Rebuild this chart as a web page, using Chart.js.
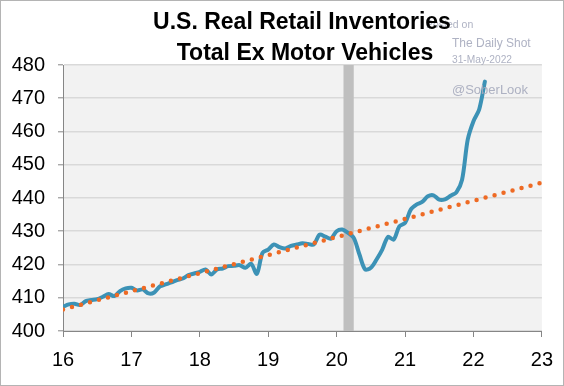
<!DOCTYPE html>
<html><head><meta charset="utf-8">
<script src="https://cdn.jsdelivr.net/npm/chart.js@4.4.1/dist/chart.umd.min.js"></script>
<style>html,body{margin:0;padding:0;background:#fff}#wrap{width:564px;height:386px;position:relative}</style>
</head><body><div id="wrap"><canvas id="c" width="564" height="386"></canvas></div>
<script>
// ---- data ----
const startYear = 16;          // first observation: Jan 2016
const monthsPerYear = 12;
const inventories = [
  407.3, 408.0, 408.2, 407.8, 409.0, 409.3, 409.6, 410.3, 411.1, 410.5, 412.0, 412.8,
  413.0, 412.2, 412.5, 411.3, 411.6, 413.4, 414.0, 414.6, 415.3, 415.8, 416.8, 417.3,
  417.8, 418.5, 417.0, 418.5, 418.8, 419.5, 419.6, 419.8, 419.0, 420.2, 417.2, 423.5,
  424.5, 426.0, 425.2, 424.8, 425.6, 426.0, 426.4, 426.2, 426.0, 429.0, 428.4, 427.8,
  430.0, 430.5, 429.5, 428.0, 423.0, 418.5, 419.0, 421.5, 424.5, 428.3, 427.5, 431.5,
  432.5, 436.5, 438.0, 438.8, 440.5, 440.8, 439.5, 439.6, 440.7, 441.7, 445.5, 457.6,
  463.1, 466.6, 475.0
];
const trendX = [16, 23];
const trendY = [406.5, 444.6];
const recession = [20.1, 20.25];
const xTicks = [16, 17, 18, 19, 20, 21, 22, 23];
const yMin = 400, yMax = 480, yStep = 10;
const titleLines = ['U.S. Real Retail Inventories', 'Total Ex Motor Vehicles'];
const watermark = ['Posted on', 'The Daily Shot', '31-May-2022', '@SoberLook'];

const invPoints = inventories.map((v, i) => ({x: startYear + i / monthsPerYear, y: v}));
const trendPoints = trendX.map((x, i) => ({x: x, y: trendY[i]}));

const FONT = '"Liberation Sans",Arial,sans-serif';
const BFONT = '"Liberation Sans",Arial,sans-serif';

const deco = {
  id: 'deco',
  beforeDraw(chart) {
    const {ctx, chartArea: a} = chart;
    ctx.save();
    ctx.fillStyle = '#ffffff';
    ctx.fillRect(0, 0, chart.width, chart.height);
    ctx.fillStyle = '#F2F2F2';
    ctx.fillRect(a.left, a.top, a.right - a.left, a.bottom - a.top);
    ctx.restore();
  },
  beforeDatasetsDraw(chart) {
    const {ctx, chartArea: a} = chart;
    const xs = chart.scales.x;
    const x0 = xs.getPixelForValue(recession[0]);
    const x1 = xs.getPixelForValue(recession[1]);
    ctx.save();
    ctx.fillStyle = '#BFBFBF';
    ctx.fillRect(x0, a.top, x1 - x0, a.bottom - a.top);
    ctx.restore();
  },
  afterDraw(chart) {
    const ctx = chart.ctx;
    ctx.save();
    // watermark
    ctx.fillStyle = 'rgba(165,170,188,0.9)';
    ctx.textAlign = 'left';
    ctx.textBaseline = 'alphabetic';
    ctx.font = '10.5px ' + BFONT;
    ctx.fillText(watermark[0], 426, 28);
    ctx.font = '12px ' + BFONT;
    ctx.fillText(watermark[1], 452, 47);
    ctx.font = '10.2px ' + BFONT;
    ctx.fillText(watermark[2], 452, 63);
    ctx.font = '13px ' + BFONT;
    ctx.fillText(watermark[3], 452, 94);
    // title
    ctx.fillStyle = '#000000';
    ctx.textAlign = 'center';
    ctx.font = 'bold 23px ' + BFONT;
    ctx.fillText(titleLines[0], 302, 29);
    ctx.fillText(titleLines[1], 305, 59.5);
    // frame
    ctx.strokeStyle = '#B4B4B4';
    ctx.lineWidth = 1;
    ctx.strokeRect(0.5, 0.5, chart.width - 1, chart.height - 1);
    ctx.restore();
  }
};

new Chart(document.getElementById('c'), {
  type: 'line',
  data: {
    datasets: [
      {
        data: trendPoints,
        borderColor: '#EE6A24',
        borderWidth: 4.5,
        borderDash: [0, 9.3],
        borderCapStyle: 'round',
        pointRadius: 0,
        fill: false,
        tension: 0
      },
      {
        data: invPoints,
        borderColor: '#3C92B6',
        borderWidth: 4,
        pointRadius: 0,
        fill: false,
        tension: 0.3,
        borderJoinStyle: 'round',
        borderCapStyle: 'round'
      }
    ]
  },
  options: {
    responsive: false,
    devicePixelRatio: 1,
    animation: false,
    events: [],
    layout: {padding: {top: 65, right: 22, bottom: 0, left: 0}},
    plugins: {legend: {display: false}, tooltip: {enabled: false}, title: {display: false}},
    scales: {
      x: {
        type: 'linear',
        min: xTicks[0], max: xTicks[xTicks.length - 1],
        afterBuildTicks: s => { s.ticks = xTicks.map(v => ({value: v})); },
        afterFit: s => { s.height = 55; },
        grid: {drawOnChartArea: false, drawTicks: true, tickLength: 6, tickColor: '#868686', tickWidth: 1},
        border: {display: true, color: '#868686', width: 1},
        ticks: {color: '#000', padding: 11, font: {family: FONT, size: 20}, maxRotation: 0,
          callback: v => String(v)}
      },
      y: {
        min: yMin, max: yMax,
        afterFit: s => { s.width = 63; },
        grid: {color: '#D9D9D9', lineWidth: 1.6, drawTicks: true, tickLength: 5, tickColor: '#868686', tickWidth: 1},
        border: {display: true, color: '#868686', width: 1},
        ticks: {stepSize: yStep, color: '#000', padding: 13, font: {family: FONT, size: 20}}
      }
    }
  },
  plugins: [deco]
});
</script>
</body></html>
